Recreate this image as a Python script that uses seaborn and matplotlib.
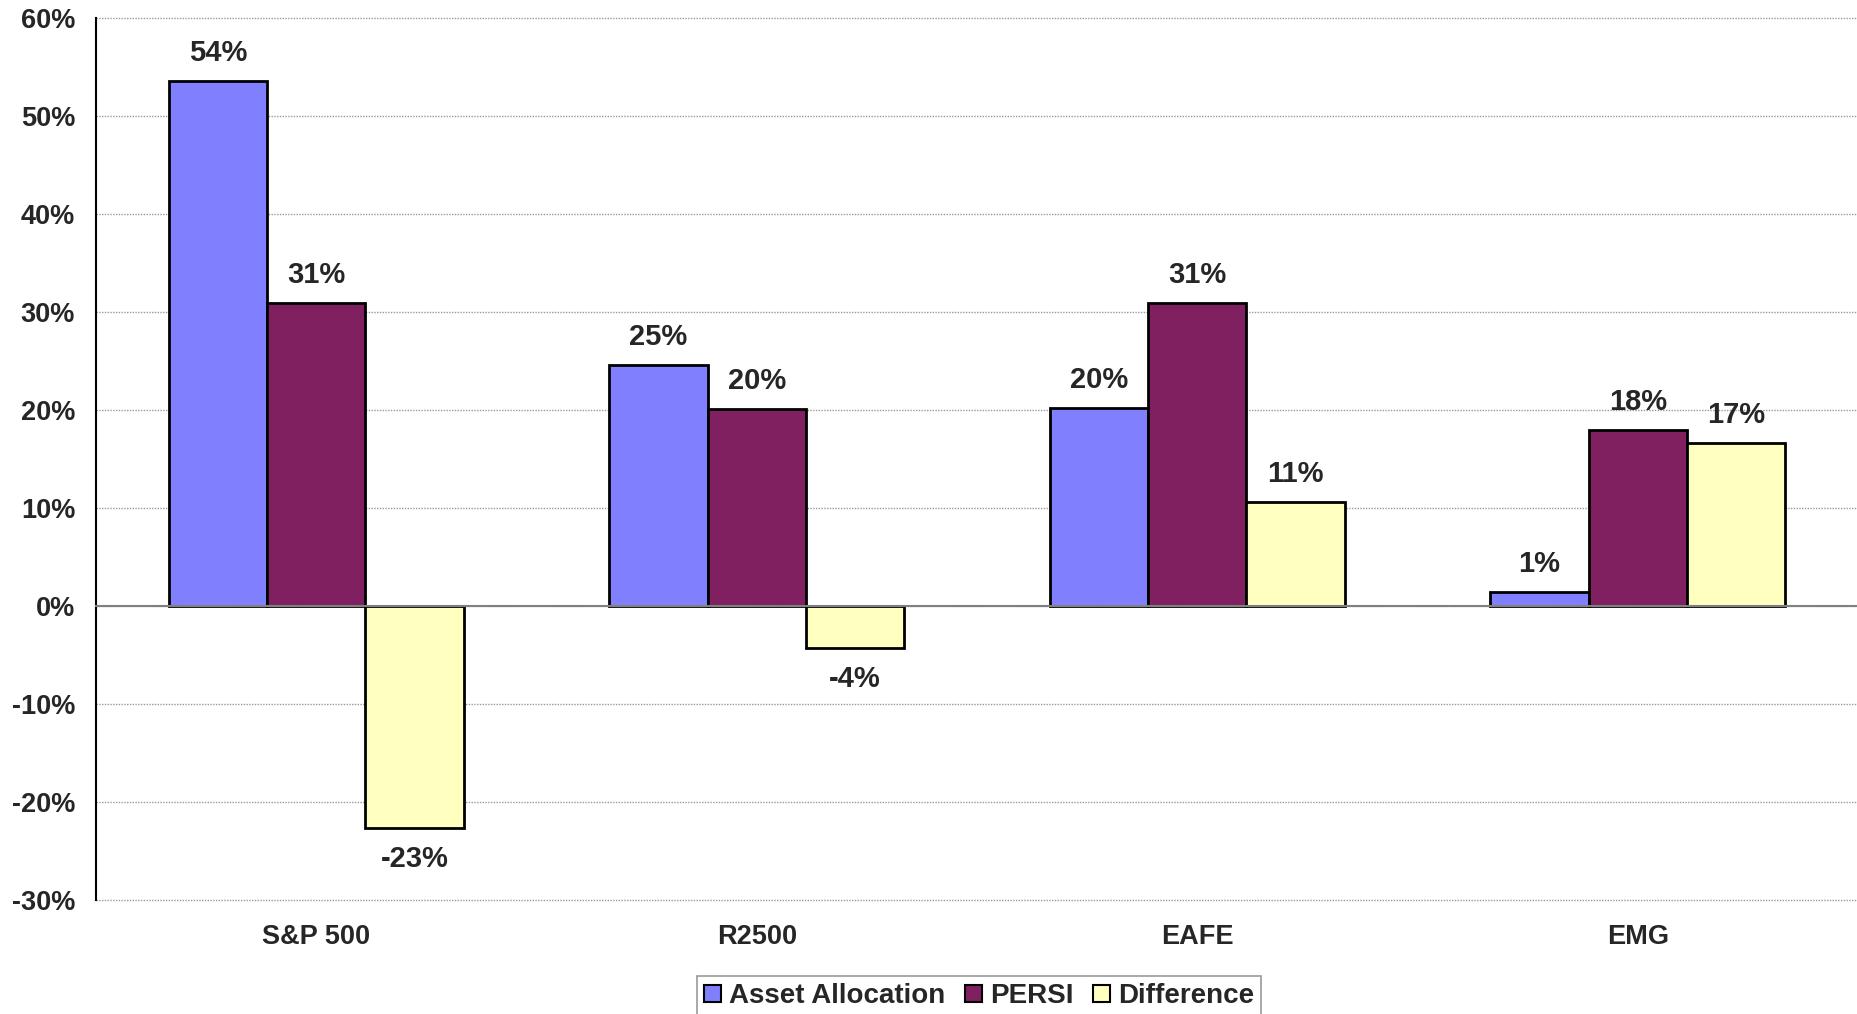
import numpy as np
import pandas as pd
import matplotlib
matplotlib.use("Agg")
import matplotlib.pyplot as plt
import seaborn as sns
from matplotlib.ticker import FixedLocator

# data (percent)
categories = ["S&P 500", "R2500", "EAFE", "EMG"]
series_names = ["Asset Allocation", "PERSI", "Difference"]
asset_allocation = [53.6, 24.6, 20.2, 1.45]
persi = [30.9, 20.1, 30.9, 18.0]
difference = [-22.7, -4.3, 10.6, 16.6]
label_text = [["54%", "25%", "20%", "1%"],
              ["31%", "20%", "31%", "18%"],
              ["-23%", "-4%", "11%", "17%"]]
y_ticks = [-30, -20, -10, 0, 10, 20, 30, 40, 50, 60]
colors = ["#8080FF", "#802060", "#FFFFC0"]

df = pd.DataFrame({
    "category": categories * 3,
    "series": np.repeat(series_names, len(categories)),
    "value": asset_allocation + persi + difference,
})

sns.set_style("white")
plt.rcParams["font.family"] = ["Liberation Sans", "DejaVu Sans"]
plt.rcParams["font.weight"] = "bold"

fig = plt.figure(figsize=(18.58, 10.14), dpi=100)
ax = fig.add_axes([96 / 1858, 1 - 900 / 1014, 1 - 96 / 1858, (900 - 18) / 1014])

sns.barplot(data=df, x="category", y="value", hue="series", order=categories,
            hue_order=series_names, palette=colors, width=0.67,
            edgecolor="black", linewidth=2, saturation=1, ax=ax, legend=True)

ax.set_xlim(-0.5, 3.5)
ax.set_ylim(-30, 60)
ax.yaxis.set_major_locator(FixedLocator(y_ticks))
ax.set_yticklabels([f"{t}%" for t in y_ticks], fontsize=19.5, fontweight="bold")
ax.tick_params(axis="y", length=10, width=1.5, color="#808080", pad=5)
ax.grid(axis="y", color="#999999", linestyle=(0, (1, 1)), linewidth=1)
for gl in ax.get_ygridlines():
    gl.set_clip_on(False)
ax.set_axisbelow(True)

for s in ["top", "right"]:
    ax.spines[s].set_visible(False)
ax.spines["left"].set_color("black")
ax.spines["left"].set_linewidth(1.5)
ax.spines["bottom"].set_position(("data", 0))
ax.spines["bottom"].set_color("#808080")
ax.spines["bottom"].set_linewidth(1.5)
ax.set_xticks([])
ax.set_xticks([0.5, 1.5, 2.5], minor=True)
ax.tick_params(axis="x", which="minor", length=7, width=1.2, color="#808080", direction="out")
ax.set_xlabel("")
ax.set_ylabel("")

sec = ax.secondary_xaxis(0)
sec.set_xticks(range(len(categories)))
sec.set_xticklabels(categories, fontsize=19.5, fontweight="bold")
sec.tick_params(length=0, pad=17)
sec.spines["bottom"].set_visible(False)

for cont, labels in zip(ax.containers, label_text):
    for bar, lab in zip(cont, labels):
        h = bar.get_height()
        off = 10 if h >= 0 else -12
        ax.annotate(lab, (bar.get_x() + bar.get_width() / 2, h),
                    xytext=(0, off), textcoords="offset points",
                    ha="center", va="bottom" if h >= 0 else "top",
                    fontsize=21, fontweight="bold")

ax.get_legend().remove()
handles = [plt.Rectangle((0, 0), 1, 1, facecolor=c, edgecolor="black", linewidth=1.5)
           for c in colors]
leg = fig.legend(handles, series_names, loc="lower center", bbox_to_anchor=(0.527, -0.016),
                 ncol=3, frameon=True, fancybox=False, edgecolor="#808080",
                 prop={"size": 20, "weight": "bold"}, handlelength=0.6, handleheight=0.6,
                 handletextpad=0.3, columnspacing=0.7, borderpad=0.25)
leg.get_frame().set_linewidth(1.2)

fig.savefig("out.png", dpi=100)
